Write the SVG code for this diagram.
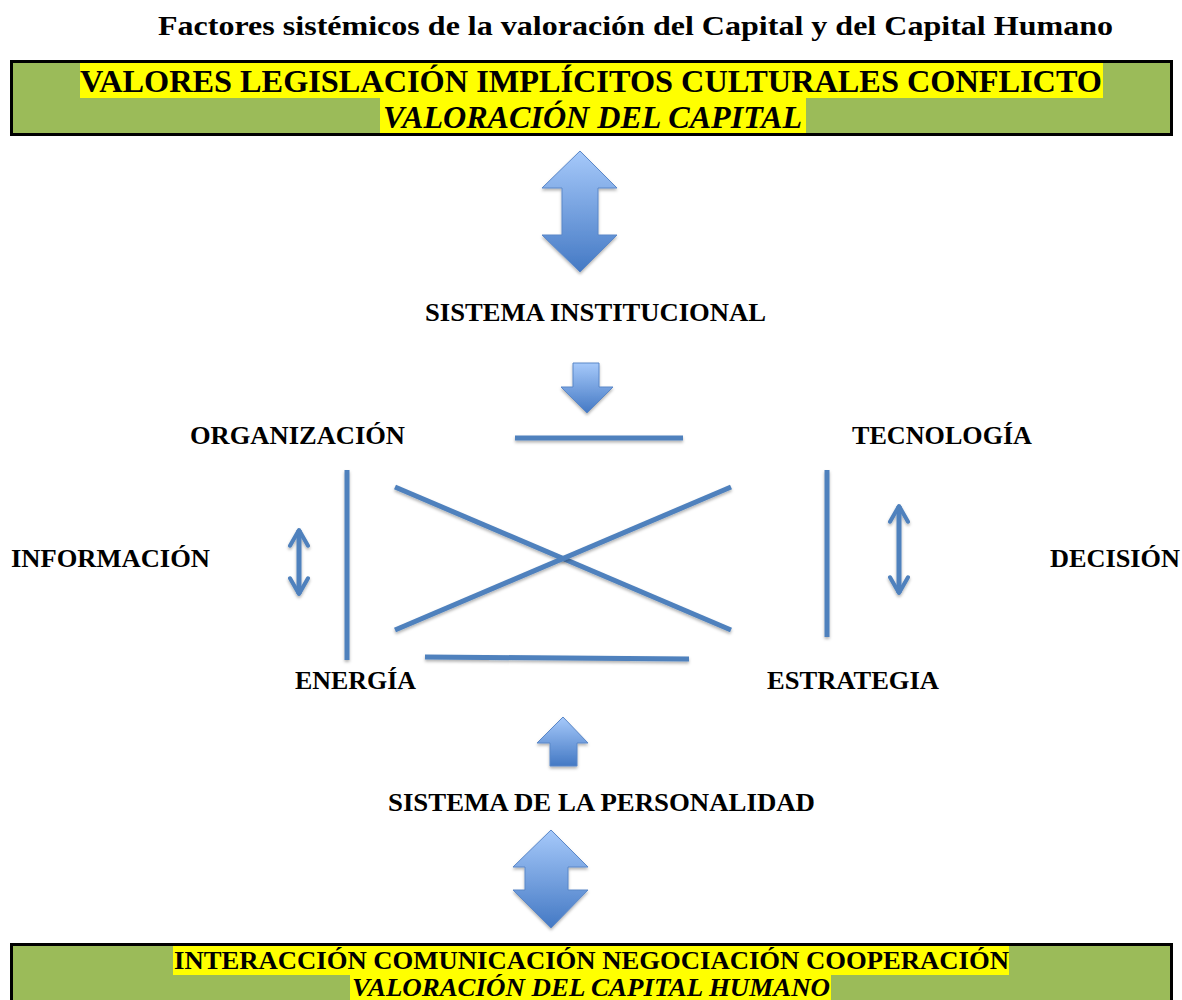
<svg xmlns="http://www.w3.org/2000/svg" width="1182" height="1000" viewBox="0 0 1182 1000">
<defs>
<linearGradient id="ag" x1="0" y1="0" x2="0" y2="1">
<stop offset="0" stop-color="#A6C9FA"/>
<stop offset="1" stop-color="#4479C4"/>
</linearGradient>
<filter id="sh" filterUnits="userSpaceOnUse" x="0" y="0" width="1182" height="1000">
<feDropShadow dx="0" dy="2" stdDeviation="1.5" flood-color="#000" flood-opacity="0.3"/>
</filter>
<marker id="ah" viewBox="0 0 10 10" refX="8" refY="5" markerWidth="4.5" markerHeight="4.5" orient="auto-start-reverse" markerUnits="strokeWidth">
<path d="M1,1 L8,5 L1,9" fill="none" stroke="#4F81BD" stroke-width="1.8" stroke-linecap="round" stroke-linejoin="round"/>
</marker>
</defs>
<style>
text{font-family:"Liberation Serif","Times New Roman",serif;fill:#000;font-weight:bold}
.lbl{font-size:26px}
.box{fill:#9BBB59;stroke:#000;stroke-width:3}
.hl{fill:#FFFF00}
.ln{stroke:#4F81BD;stroke-width:5;fill:none;filter:url(#sh)}
.arr{fill:url(#ag);stroke:#5A87C8;stroke-width:1;filter:url(#sh)}
</style>
<rect width="1182" height="1000" fill="#fff"/>
<text id="title" x="158" y="35" font-size="28" textLength="955" lengthAdjust="spacingAndGlyphs">Factores sistémicos de la valoración del Capital y del Capital Humano</text>
<g id="top-box">
<rect class="box" x="11.5" y="61.5" width="1160" height="73"/>
<rect class="hl" x="80" y="63" width="1023" height="35"/>
<rect class="hl" x="380" y="98" width="426" height="35"/>
<text x="80" y="92" font-size="32" textLength="1022" lengthAdjust="spacingAndGlyphs">VALORES LEGISLACIÓN IMPLÍCITOS CULTURALES CONFLICTO</text>
<text x="383" y="128" font-size="32" font-style="italic" textLength="419" lengthAdjust="spacingAndGlyphs">VALORACIÓN DEL CAPITAL</text>
</g>
<g id="arrow-top">
<path class="arr" d="M580,151 L617,188 L598,188 L598,235 L617,235 L580,272 L542,235 L562,235 L562,188 L542,188 Z"/>
</g>
<g id="sistema-institucional"><text class="lbl" x="425" y="321" textLength="341" lengthAdjust="spacingAndGlyphs">SISTEMA INSTITUCIONAL</text></g>
<g id="arrow-down">
<path class="arr" d="M573,363 L599,363 L599,387 L613,387 L587,413 L561,387 L573,387 Z"/>
</g>
<g id="organizacion"><text class="lbl" x="190" y="444" textLength="215" lengthAdjust="spacingAndGlyphs">ORGANIZACIÓN</text></g>
<g id="tecnologia"><text class="lbl" x="852" y="444" textLength="180" lengthAdjust="spacingAndGlyphs">TECNOLOGÍA</text></g>
<g id="informacion"><text class="lbl" x="11" y="567" textLength="199" lengthAdjust="spacingAndGlyphs">INFORMACIÓN</text></g>
<g id="decision"><text class="lbl" x="1050" y="567" textLength="130" lengthAdjust="spacingAndGlyphs">DECISIÓN</text></g>
<g id="energia"><text class="lbl" x="295" y="689" textLength="121" lengthAdjust="spacingAndGlyphs">ENERGÍA</text></g>
<g id="estrategia"><text class="lbl" x="767" y="689" textLength="172" lengthAdjust="spacingAndGlyphs">ESTRATEGIA</text></g>
<g id="connectors">
<line class="ln" x1="515" y1="438" x2="683" y2="438"/>
<line class="ln" x1="347" y1="470" x2="347" y2="660"/>
<line class="ln" x1="827" y1="470" x2="827" y2="637"/>
<line class="ln" x1="395" y1="487" x2="731" y2="630"/>
<line class="ln" x1="395" y1="630" x2="731" y2="487"/>
<line class="ln" x1="425" y1="657" x2="689" y2="659"/>
<line class="ln" x1="299" y1="530" x2="299" y2="594" marker-start="url(#ah)" marker-end="url(#ah)"/>
<line class="ln" x1="899" y1="506" x2="899" y2="593" marker-start="url(#ah)" marker-end="url(#ah)"/>
</g>
<g id="arrow-up">
<path class="arr" d="M563,717 L588,743 L577,743 L577,766 L550,766 L550,743 L537,743 Z"/>
</g>
<g id="sistema-personalidad"><text class="lbl" x="388" y="811" textLength="427" lengthAdjust="spacingAndGlyphs">SISTEMA DE LA PERSONALIDAD</text></g>
<g id="arrow-bottom">
<path class="arr" d="M551,830 L588,867 L568,867 L568,890 L588,890 L551,928 L513,890 L525,890 L525,867 L513,867 Z"/>
</g>
<g id="bottom-box">
<rect class="box" x="11.5" y="944.5" width="1160" height="60"/>
<rect class="hl" x="173" y="946" width="836" height="29"/>
<rect class="hl" x="350" y="975" width="481" height="25"/>
<text x="174" y="969" font-size="26" textLength="835" lengthAdjust="spacingAndGlyphs">INTERACCIÓN COMUNICACIÓN NEGOCIACIÓN COOPERACIÓN</text>
<text x="352" y="996" font-size="25" font-style="italic" textLength="478" lengthAdjust="spacingAndGlyphs">VALORACIÓN DEL CAPITAL HUMANO</text>
</g>
</svg>
